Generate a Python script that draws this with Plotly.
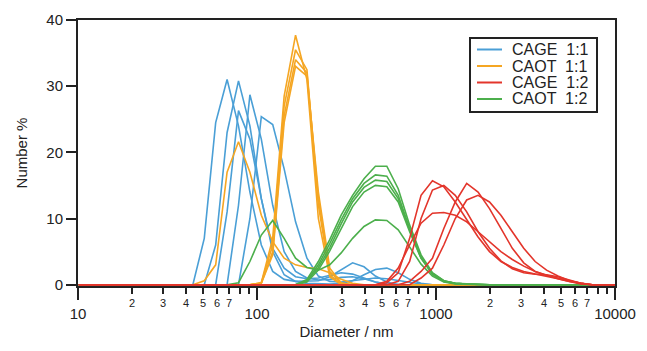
import math
import plotly.graph_objects as go

# Size bins (nm)
DIAM = [10.1, 11.7, 13.54, 15.69, 18.17, 21.04, 24.36, 28.21, 32.67, 37.84,
        43.82, 50.75, 58.77, 68.06, 78.82, 91.28, 105.7, 122.4, 141.8, 164.2,
        190.1, 220.2, 255.0, 295.3, 342.0, 396.1, 458.7, 531.2, 615.1, 712.4,
        825.0, 955.4, 1106, 1281, 1484, 1718, 1990, 2305, 2669, 3091,
        3580, 4145, 4801, 5560, 6439, 7456, 8635, 10000]

Z10 = [0, 0, 0, 0, 0, 0, 0, 0, 0, 0]

# CAGE 1:1 (blue)
CAGE_11 = [
    Z10 + [0, 7, 24.5, 31, 24, 14, 6, 2, 0.8, 0.5]
    + [0.5, 0.6, 1.2, 2.3, 3.3, 2.7, 1.3, 0.4, 0, 0] + Z10 + [0, 0, 0, 0, 0, 0, 0, 0],
    Z10 + [0, 0, 6, 23, 30.8, 24, 13, 5, 1.5, 0.5]
    + [0.2, 0.1, 0.1, 0.2, 0.6, 1.5, 2.3, 2.5, 1.8, 0.8] + [0.2, 0, 0, 0, 0, 0, 0, 0, 0, 0] + [0, 0, 0, 0, 0, 0, 0, 0],
    Z10 + [0, 0, 0, 0, 12, 28.7, 22, 12, 5, 2]
    + [1, 0.7, 0.8, 1.1, 1.2, 0.9, 0.4, 0.1, 0, 0] + Z10 + [0, 0, 0, 0, 0, 0, 0, 0],
    Z10 + [0, 0, 0, 11, 26.3, 22, 13, 5.5, 2.5, 1.2]
    + [0.9, 1.0, 1.4, 1.8, 1.6, 1.0, 0.4, 0.1, 0, 0] + Z10 + [0, 0, 0, 0, 0, 0, 0, 0],
    Z10 + [0, 0, 0, 0, 0, 10, 25.4, 24.2, 17.5, 9.5]
    + [4, 1.3, 0.5, 0.4, 0.6, 0.9, 1.0, 0.9, 0.6, 0.3] + [0.1, 0, 0, 0, 0, 0, 0, 0, 0, 0] + [0, 0, 0, 0, 0, 0, 0, 0],
]

# CAOT 1:1 (orange)
CAOT_11 = [
    Z10 + [0, 0, 0, 0, 0, 0, 0.3, 7, 28.5, 37.7]
    + [31, 10, 1.2, 0, 0, 0, 0, 0, 0, 0] + Z10 + [0, 0, 0, 0, 0, 0, 0, 0],
    Z10 + [0, 0, 0, 0, 0, 0, 0.3, 6, 27, 35.5]
    + [32.5, 12, 1.5, 0.1, 0, 0, 0, 0, 0, 0] + Z10 + [0, 0, 0, 0, 0, 0, 0, 0],
    Z10 + [0, 0, 0, 0, 0, 0, 0.2, 5, 25.5, 34]
    + [32, 13, 2, 0.2, 0, 0, 0, 0, 0, 0] + Z10 + [0, 0, 0, 0, 0, 0, 0, 0],
    Z10 + [0, 0, 0, 0, 0, 0, 0.2, 4.5, 24.5, 33]
    + [31.5, 14, 2.5, 0.3, 0, 0, 0, 0, 0, 0] + Z10 + [0, 0, 0, 0, 0, 0, 0, 0],
    Z10 + [0, 0.6, 3, 17, 21.6, 17, 10.5, 6.5, 4, 3]
    + [2.6, 2.4, 1.8, 0.8, 0.2, 0, 0, 0, 0, 0] + Z10 + [0, 0, 0, 0, 0, 0, 0, 0],
]

# CAOT 1:2 (green)
CAOT_12 = [
    Z10 + Z10 + [0.8, 3.5, 6.8, 10.5, 13.5, 16, 17.9, 17.9, 14.5, 9]
    + [4.5, 1.8, 0.6, 0.2, 0.1, 0, 0, 0, 0, 0] + [0, 0, 0, 0, 0, 0, 0, 0],
    Z10 + Z10 + [0.6, 3, 6.2, 9.8, 13, 15.3, 16.6, 16.4, 13.5, 8.5]
    + [4.2, 1.7, 0.6, 0.2, 0.1, 0, 0, 0, 0, 0] + [0, 0, 0, 0, 0, 0, 0, 0],
    Z10 + Z10 + [0.5, 2.6, 5.6, 9.2, 12.5, 14.7, 15.8, 15.6, 13, 8.3]
    + [4, 1.6, 0.5, 0.2, 0.1, 0, 0, 0, 0, 0] + [0, 0, 0, 0, 0, 0, 0, 0],
    Z10 + Z10 + [0.4, 2.2, 5.1, 8.5, 11.8, 14, 15.0, 14.8, 12.5, 8]
    + [4, 1.6, 0.5, 0.2, 0.1, 0, 0, 0, 0, 0] + [0, 0, 0, 0, 0, 0, 0, 0],
    Z10 + [0, 0, 0, 0, 0.3, 3.5, 7.5, 9.7, 7, 4]
    + [2.6, 2.2, 3, 4.8, 7, 8.8, 9.8, 9.7, 8.3, 5.7]
    + [3.1, 1.3, 0.4, 0.1, 0, 0, 0, 0, 0, 0] + [0, 0, 0, 0, 0, 0, 0, 0],
]

# CAGE 1:2 (red)
CAGE_12 = [
    Z10 + Z10 + [0, 0, 0, 0, 0, 0, 0, 0.3, 1.8, 7]
    + [13.5, 15.7, 14.8, 12.5, 9.8, 7.2, 5, 3.5, 2.6, 2.0]
    + [1.6, 1.3, 0.9, 0.5, 0.1, 0, 0, 0],
    Z10 + Z10 + [0, 0, 0, 0, 0, 0, 0, 0, 0.5, 3.5]
    + [10, 14.3, 15.0, 13.5, 11, 8, 5.5, 3.6, 2.4, 1.8]
    + [1.6, 1.5, 1.2, 0.7, 0.2, 0, 0, 0],
    Z10 + Z10 + [0, 0, 0, 0, 0, 0, 0, 0.5, 2.5, 6]
    + [9.3, 10.8, 10.9, 10.5, 9.5, 8, 6.5, 5, 3.8, 2.8]
    + [2.0, 1.4, 0.9, 0.5, 0.2, 0, 0, 0],
    Z10 + Z10 + [0, 0, 0, 0, 0, 0, 0, 0, 0, 0.5]
    + [2, 4, 8.5, 12.5, 15.3, 14, 11.5, 8.5, 5.5, 3.3]
    + [2, 1.4, 1, 0.6, 0.2, 0, 0, 0],
    Z10 + Z10 + [0, 0, 0, 0, 0, 0, 0, 0, 0, 0]
    + [1, 2.5, 6, 10, 12.8, 13.5, 12.5, 10.5, 8, 5.5]
    + [3.5, 2.2, 1.3, 0.6, 0.2, 0, 0, 0],
]

LEGEND_NAMES = ["CAGE  1:1", "CAOT  1:1", "CAGE  1:2", "CAOT  1:2"]
COLORS = {"CAGE  1:1": "#4a9fd6", "CAOT  1:1": "#f5a623",
          "CAGE  1:2": "#e3352b", "CAOT  1:2": "#4caf4c"}
SERIES = {"CAGE  1:1": CAGE_11, "CAOT  1:1": CAOT_11,
          "CAOT  1:2": CAOT_12, "CAGE  1:2": CAGE_12}
DRAW_ORDER = ["CAGE  1:1", "CAOT  1:1", "CAOT  1:2", "CAGE  1:2"]

Y_TICKS = [0, 10, 20, 30, 40]
X_MAJOR = [10, 100, 1000, 10000]
X_MAJOR_TEXT = ["10", "100", "1000", "10000"]
MINOR_DIGITS = [2, 3, 4, 5, 6, 7, 8, 9]
MINOR_LABELS = ["2", "3", "4", "5", "6", "7", "", ""]
REF_LINES = [100, 1000]

FONT = "Liberation Sans, Arial, Helvetica, sans-serif"
INK = "#222222"

fig = go.Figure()
for name in DRAW_ORDER:
    for ys in SERIES[name]:
        fig.add_trace(go.Scatter(
            x=DIAM, y=ys, mode="lines", name=name.replace("  ", " "),
            line=dict(color=COLORS[name], width=1.6),
            showlegend=False,
        ))

minor_vals = [d * k for d in X_MAJOR[:-1] for k in MINOR_DIGITS]

fig.update_layout(
    width=647, height=351,
    margin=dict(l=78, r=32, t=20, b=65),
    paper_bgcolor="white", plot_bgcolor="white",
    font=dict(family=FONT, color=INK, size=15),
    showlegend=False,
    xaxis=dict(
        type="log", range=[1, 4],
        tickmode="array", tickvals=X_MAJOR, ticktext=X_MAJOR_TEXT,
        ticks="outside", ticklen=12, tickwidth=1.5, tickcolor=INK,
        tickfont=dict(size=15), ticklabelstandoff=1,
        minor=dict(tickmode="array", tickvals=minor_vals, ticks="outside",
                   ticklen=6, tickwidth=1.5, tickcolor=INK, showgrid=False),
        showline=True, linewidth=2, linecolor=INK, mirror=True,
        showgrid=False, zeroline=False,
        title=dict(text="Diameter / nm", font=dict(size=15), standoff=5),
    ),
    yaxis=dict(
        range=[-0.2, 40], tickmode="array", tickvals=Y_TICKS,
        ticks="outside", ticklen=10, tickwidth=1.5, tickcolor=INK,
        tickfont=dict(size=15),
        showline=True, linewidth=2, linecolor=INK, mirror=True,
        showgrid=False, zeroline=False,
        title=dict(text="Number %", font=dict(size=15), standoff=15),
    ),
)

# dotted reference lines
for v in REF_LINES:
    fig.add_shape(type="line", xref="x", yref="paper",
                  x0=math.log10(v), x1=math.log10(v), y0=0, y1=1,
                  line=dict(color="#9a9a9a", width=1, dash="dot"), layer="below")

# minor tick labels
for d in X_MAJOR[:-1]:
    for k, lab in zip(MINOR_DIGITS, MINOR_LABELS):
        if lab:
            fig.add_annotation(x=math.log10(d * k), y=0, xref="x", yref="paper",
                               text=lab, showarrow=False, yanchor="top",
                               yshift=-9, font=dict(size=11, color=INK))

# custom legend (compact)
PW, PH, L, B = 537, 266, 78, 286
def px(x):
    return (x - L) / PW
def py(y):
    return (B - y) / PH

fig.add_shape(type="rect", xref="paper", yref="paper",
              x0=px(470), x1=px(597), y0=py(112), y1=py(38),
              line=dict(color=INK, width=2), fillcolor="white", layer="above")
legend_rows = [49.5, 66, 82.5, 99]
for name, yy in zip(LEGEND_NAMES, legend_rows):
    fig.add_shape(type="line", xref="paper", yref="paper",
                  x0=px(477), x1=px(502), y0=py(yy), y1=py(yy),
                  line=dict(color=COLORS[name], width=2), layer="above")
    fig.add_annotation(x=px(510), y=py(yy), xref="paper", yref="paper",
                       text=name, showarrow=False, xanchor="left",
                       yanchor="middle", font=dict(size=16, color=INK))

fig.write_html("out.html")
